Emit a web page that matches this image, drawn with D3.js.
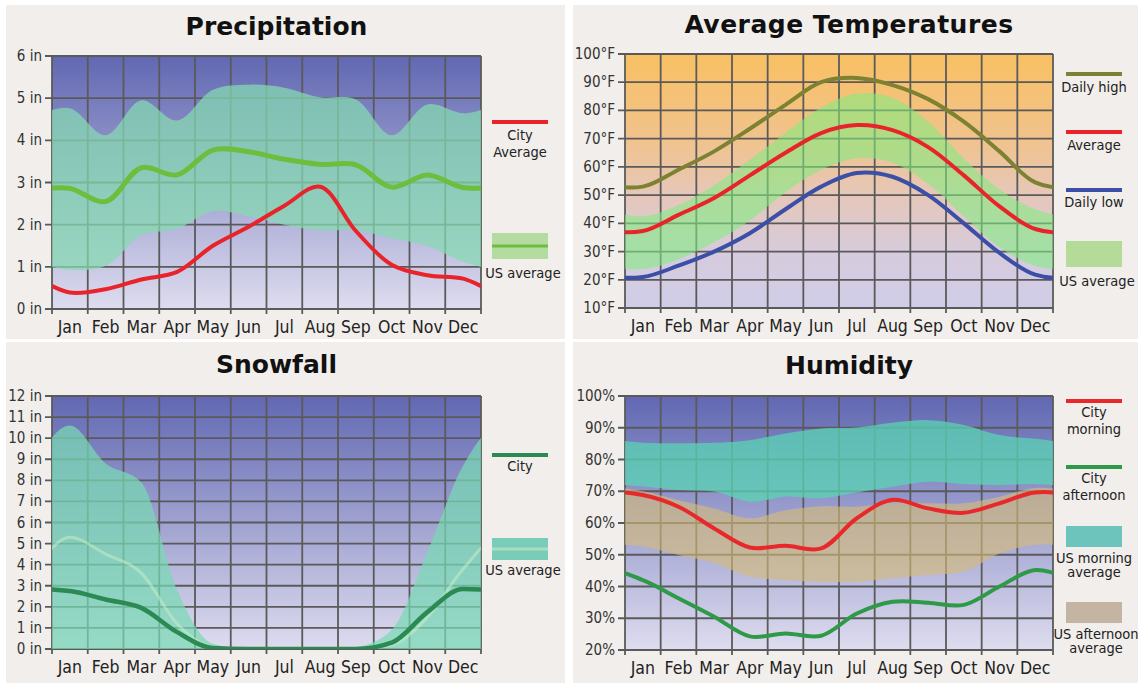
<!DOCTYPE html>
<html>
<head>
<meta charset="utf-8">
<script src="https://cdn.jsdelivr.net/npm/d3@7"></script>
<style>
  body { margin: 0; background: #fff; }
  svg text { font-family: "DejaVu Sans Condensed", "Liberation Sans Narrow", "DejaVu Sans", sans-serif; font-stretch: condensed; }
  svg text.title { font-family: "DejaVu Sans", sans-serif; font-weight: bold; font-stretch: normal; }
</style>
</head>
<body>
<svg id="chart" width="1140" height="683"></svg>
<script>
const months = ["Jan", "Feb", "Mar", "Apr", "May", "Jun", "Jul", "Aug", "Sep", "Oct", "Nov", "Dec"];

// precipitation, inches
const precipTicks = [0, 1, 2, 3, 4, 5, 6];
const precipCity = [0.39, 0.47, 0.70, 0.88, 1.50, 1.95, 2.45, 2.90, 1.85, 1.05, 0.80, 0.72];
const precipUs = [2.86, 2.55, 3.35, 3.18, 3.77, 3.73, 3.55, 3.43, 3.42, 2.89, 3.18, 2.88];
const precipUsHigh = [4.76, 4.12, 4.95, 4.47, 5.20, 5.32, 5.25, 5.02, 4.97, 4.12, 4.85, 4.64];
const precipUsLow = [0.93, 1.02, 1.75, 1.90, 2.32, 2.20, 2.00, 1.86, 1.87, 1.68, 1.50, 1.12];

// temperatures, °F
const tempTicks = [10, 20, 30, 40, 50, 60, 70, 80, 90, 100];
const tempHigh = [53, 59, 65.5, 73.5, 82, 90, 91.5, 89, 84, 76, 65.5, 54.5];
const tempAvg = [37.3, 43, 49, 57, 65, 72, 74.8, 73, 67, 57, 46, 38];
const tempLow = [21, 25, 30, 36.5, 45, 53, 57.8, 56.5, 50, 40, 29.5, 21.8];
const tempUsHigh = [42.5, 46.5, 53.5, 62.5, 72, 81, 86, 84.5, 76, 63, 52, 45];
const tempUsLow = [23.8, 27.3, 33.3, 41, 51, 59, 63, 61.5, 54, 42.5, 31.5, 25];

// snowfall, inches
const snowTicks = [0, 1, 2, 3, 4, 5, 6, 7, 8, 9, 10, 11, 12];
const snowCity = [2.75, 2.35, 1.95, 0.8, 0.05, 0, 0, 0, 0, 0.3, 1.75, 2.85];
const snowUs = [5.3, 4.5, 3.6, 1.2, 0.1, 0, 0, 0, 0, 0.2, 1.5, 3.8];
const snowUsHigh = [10.6, 8.8, 7.9, 2.8, 0.25, 0, 0, 0, 0.1, 0.9, 4.6, 8.7];
const snowUsLow = [0, 0, 0, 0, 0, 0, 0, 0, 0, 0, 0, 0];

// humidity, %
const humTicks = [20, 30, 40, 50, 60, 70, 80, 90, 100];
const humCityMorning = [68.8, 65.1, 58.3, 52.3, 52.8, 52.0, 61.5, 67.3, 64.6, 63.2, 66.2, 69.6];
const humCityAfternoon = [42, 36.3, 30.5, 24.3, 25.2, 24.5, 31.5, 35.2, 34.9, 34.2, 40, 45.2];
const humUsMorningHigh = [85.3, 85.1, 85.3, 86.1, 88.2, 89.8, 90.1, 91.6, 92.4, 90.9, 87.7, 86.5];
const humUsMorningLow = [71.5, 70.4, 69.9, 66.7, 68.3, 67.8, 69.6, 71.4, 73, 72.3, 72, 72.2];
const humUsAfternoonHigh = [70, 67.2, 64.6, 61.5, 64, 65.3, 65.1, 66.4, 66.2, 66.2, 68.3, 71];
const humUsAfternoonLow = [52.5, 49.9, 47.3, 43.1, 42, 41.5, 41.5, 42.6, 43.6, 44.7, 50.4, 53.1];

const svg = d3.select("#chart");
const defs = svg.append("defs");

function gradient(id, stops) {
  const g = defs.append("linearGradient").attr("id", id)
    .attr("x1", 0).attr("y1", 0).attr("x2", 0).attr("y2", 1);
  stops.forEach(s => g.append("stop").attr("offset", s[0]).attr("stop-color", s[1]));
}
gradient("bgBlue", [[0, "#6168b2"], [1, "#dedcef"]]);
gradient("bgWarm", [[0, "#f9c062"], [0.35, "#f0c38f"], [0.55, "#e6c7b8"], [0.78, "#d7cbdc"], [1, "#d0cde8"]]);

// month values sit at month centres, wrapped round the year so the curve reaches both edges
const wrap = (vals) => [{ m: -1.5, v: vals[10] }, { m: -0.5, v: vals[11] }]
  .concat(vals.map((v, i) => ({ m: i + 0.5, v })))
  .concat([{ m: 12.5, v: vals[0] }, { m: 13.5, v: vals[1] }]);
const wrapBand = (hi, lo) => [{ m: -1.5, hi: hi[10], lo: lo[10] }, { m: -0.5, hi: hi[11], lo: lo[11] }]
  .concat(hi.map((v, i) => ({ m: i + 0.5, hi: v, lo: lo[i] })))
  .concat([{ m: 12.5, hi: hi[0], lo: lo[0] }, { m: 13.5, hi: hi[1], lo: lo[1] }]);

function drawPanel(cfg, idx) {
  const g = svg.append("g");
  g.append("rect").attr("x", cfg.panel[0]).attr("y", cfg.panel[1])
    .attr("width", cfg.panel[2]).attr("height", cfg.panel[3]).attr("fill", "#f1eeeb");

  const [x0, x1, y0, y1] = cfg.plot;
  const x = d3.scaleLinear().domain([0, 12]).range([x0, x1]);
  const y = d3.scaleLinear().domain(d3.extent(cfg.ticks)).range([y1, y0]);
  const curve = cfg.curve || d3.curveCatmullRom.alpha(0.5);

  g.append("text").attr("class", "title")
    .attr("x", (x0 + x1) / 2 + 10).attr("y", cfg.titleY)
    .attr("text-anchor", "middle").attr("font-size", 25).attr("fill", "#111")
    .attr("letter-spacing", cfg.titleSpacing || 0)
    .text(cfg.title);

  const clipId = "clip" + idx;
  defs.append("clipPath").attr("id", clipId)
    .append("rect").attr("x", x0).attr("y", y0).attr("width", x1 - x0).attr("height", y1 - y0);

  g.append("rect").attr("x", x0).attr("y", y0).attr("width", x1 - x0).attr("height", y1 - y0)
    .attr("fill", `url(#${cfg.bg})`);

  // grid + axis ticks
  const grid = g.append("g").attr("stroke", "#5a5a5a").attr("stroke-width", 1.8);
  grid.selectAll(".h").data(cfg.ticks).join("line")
    .attr("x1", x0 - 7).attr("x2", x1).attr("y1", d => y(d)).attr("y2", d => y(d));
  grid.selectAll(".v").data(d3.range(13)).join("line")
    .attr("x1", d => x(d)).attr("x2", d => x(d)).attr("y1", y0).attr("y2", y1 + 5);

  g.selectAll(".ytick").data(cfg.ticks).join("text")
    .attr("x", x0 - 10).attr("y", d => y(d) + 5)
    .attr("text-anchor", "end").attr("font-size", 15).attr("fill", "#333")
    .text(cfg.fmt);

  g.selectAll(".month").data(months).join("text")
    .attr("x", (d, i) => x(i + 0.5)).attr("y", y1 + 24)
    .attr("text-anchor", "middle").attr("font-size", 17.5).attr("fill", "#222")
    .text(d => d);

  const plot = g.append("g").attr("clip-path", `url(#${clipId})`);
  cfg.bands.forEach(b => {
    const area = d3.area().curve(curve)
      .x(d => x(d.m)).y0(d => y(d.lo)).y1(d => y(d.hi));
    plot.append("path").datum(wrapBand(b.hi, b.lo)).attr("d", area)
      .attr("fill", b.fill).attr("fill-opacity", b.opacity);
  });
  cfg.lines.forEach(l => {
    const line = d3.line().curve(curve).x(d => x(d.m)).y(d => y(d.v));
    plot.append("path").datum(wrap(l.values)).attr("d", line)
      .attr("fill", "none").attr("stroke", l.color).attr("stroke-width", l.width)
      .attr("stroke-opacity", l.opacity || 1);
  });

  // legend
  const cx = cfg.legendX;
  const lg = g.append("g");
  cfg.legend.forEach(it => {
    if (it.box) {
      lg.append("rect").attr("x", cx - 28).attr("y", it.y).attr("width", 56).attr("height", it.h)
        .attr("fill", it.box);
      if (it.line) {
        lg.append("line").attr("x1", cx - 28).attr("x2", cx + 28)
          .attr("y1", it.y + it.h / 2).attr("y2", it.y + it.h / 2)
          .attr("stroke", it.line).attr("stroke-width", 3);
      }
    } else {
      lg.append("line").attr("x1", cx - 28).attr("x2", cx + 28).attr("y1", it.y).attr("y2", it.y)
        .attr("stroke", it.line).attr("stroke-width", 4);
    }
    it.labels.forEach((t, k) => {
      lg.append("text").attr("x", cx + (it.dx || 0)).attr("y", it.ty + k * it.gap)
        .attr("text-anchor", "middle").attr("font-size", 14.5).attr("fill", "#222").text(t);
    });
  });
}

const panels = [
  {
    title: "Precipitation", titleY: 35, panel: [6, 5, 559, 334], plot: [52, 481, 56, 309],
    bg: "bgBlue", ticks: precipTicks, fmt: d => d + " in",
    bands: [{ hi: precipUsHigh, lo: precipUsLow, fill: "rgb(133,219,177)", opacity: 0.72 }],
    lines: [
      { values: precipUs, color: "#6cbe3c", width: 5 },
      { values: precipCity, color: "#e8242a", width: 4 }
    ],
    legendX: 520,
    legend: [
      { line: "#e8242a", y: 122, labels: ["City", "Average"], ty: 140, gap: 17 },
      { box: "#b4dca0", line: "#6cbe3c", y: 233, h: 26, labels: ["US average"], ty: 278, gap: 14, dx: 3 }
    ]
  },
  {
    title: "Average Temperatures", titleY: 33, titleSpacing: 0.5, panel: [573, 5, 565, 334], plot: [625, 1053, 54, 308],
    bg: "bgWarm", ticks: tempTicks, fmt: d => d + "°F",
    bands: [{ hi: tempUsHigh, lo: tempUsLow, fill: "rgb(127,238,127)", opacity: 0.57 }],
    lines: [
      { values: tempHigh, color: "#7d8232", width: 4 },
      { values: tempAvg, color: "#e8242a", width: 4 },
      { values: tempLow, color: "#3b4fa6", width: 4 }
    ],
    legendX: 1094,
    legend: [
      { line: "#7d8232", y: 74, labels: ["Daily high"], ty: 92, gap: 17 },
      { line: "#e8242a", y: 132, labels: ["Average"], ty: 150, gap: 17 },
      { line: "#3b4fa6", y: 190, labels: ["Daily low"], ty: 207, gap: 17 },
      { box: "#b4dc98", y: 241, h: 26, labels: ["US average"], ty: 286, gap: 14, dx: 3 }
    ]
  },
  {
    title: "Snowfall", titleY: 373, panel: [6, 342, 559, 341], plot: [52, 481, 396, 649],
    bg: "bgBlue", ticks: snowTicks, fmt: d => d + " in", curve: d3.curveMonotoneX,
    bands: [{ hi: snowUsHigh, lo: snowUsLow, fill: "rgb(120,218,180)", opacity: 0.72 }],
    lines: [
      { values: snowUs, color: "#c4ecc8", width: 3, opacity: 0.55 },
      { values: snowCity, color: "#2a8a52", width: 4.5 }
    ],
    legendX: 520,
    legend: [
      { line: "#2a8a52", y: 455, labels: ["City"], ty: 471, gap: 17 },
      { box: "#78ccb8", line: "#a8dcc0", y: 538, h: 22, labels: ["US average"], ty: 575, gap: 14, dx: 3 }
    ]
  },
  {
    title: "Humidity", titleY: 374, panel: [573, 342, 565, 341], plot: [625, 1053, 396, 650],
    bg: "bgBlue", ticks: humTicks, fmt: d => d + "%",
    bands: [
      { hi: humUsMorningHigh, lo: humUsMorningLow, fill: "rgb(90,212,180)", opacity: 0.75 },
      { hi: humUsAfternoonHigh, lo: humUsAfternoonLow, fill: "rgb(213,188,120)", opacity: 0.62 }
    ],
    lines: [
      { values: humCityAfternoon, color: "#2e9a48", width: 4 },
      { values: humCityMorning, color: "#e8282a", width: 4 }
    ],
    legendX: 1094,
    legend: [
      { line: "#e8282a", y: 401, labels: ["City", "morning"], ty: 417, gap: 17 },
      { line: "#2e9a48", y: 467, labels: ["City", "afternoon"], ty: 483, gap: 17 },
      { box: "#6cc4bc", y: 526, h: 21, labels: ["US morning", "average"], ty: 563, gap: 14 },
      { box: "#c4b4a2", y: 602, h: 21, labels: ["US afternoon", "average"], ty: 639, gap: 14, dx: 2 }
    ]
  }
];

panels.forEach(drawPanel);
</script>
</body>
</html>
